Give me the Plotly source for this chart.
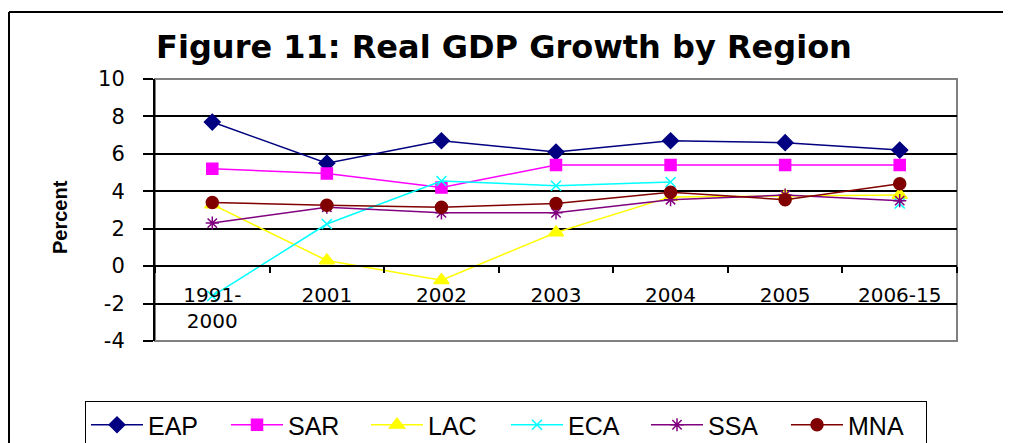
import plotly.graph_objects as go

years = ["1991-<br>2000", "2001", "2002", "2003", "2004", "2005", "2006-15"]

eap = [7.7, 5.5, 6.7, 6.1, 6.7, 6.6, 6.2]
sar = [5.2, 4.95, 4.2, 5.4, 5.4, 5.4, 5.4]
lac = [3.3, 0.3, -0.75, 1.8, 3.7, 3.75, 3.8]
eca = [-1.6, 2.25, 4.55, 4.3, 4.5, None, 3.35]
ssa = [2.3, 3.15, 2.85, 2.85, 3.55, 3.8, 3.5]
mna = [3.4, 3.25, 3.15, 3.35, 3.95, 3.55, 4.4]

y_ticks = [-4, -2, 0, 2, 4, 6, 8, 10]
y_labels = ["-4", "-2", "0", "2", "4", "6", "8", "10"]

series = [
    ("EAP", eap, "#000080", "diamond", 12),
    ("SAR", sar, "#FF00FF", "square", 11),
    ("LAC", lac, "#FFFF00", "triangle-up", 13),
    ("ECA", eca, "#00FFFF", "x-thin-open", 10),
    ("SSA", ssa, "#800080", "asterisk-open", 11),
    ("MNA", mna, "#800000", "circle", 12),
]

arial = "Liberation Sans, Arial, sans-serif"
wide = "DejaVu Sans, Verdana, sans-serif"

# page has an 8px body margin; figure is taller than the window so the
# legend box runs off the bottom edge like in the original
W, H = 1003, 470
L, T, R, B = 147, 71, 54, 137
PW, PH = W - L - R, H - T - B

fig = go.Figure()
for name, vals, color, sym, size in series:
    fig.add_trace(go.Scatter(
        x=years, y=vals, name=name, mode="lines+markers",
        connectgaps=False,
        line=dict(color=color, width=1.5),
        marker=dict(symbol=sym, size=size, color=color,
                    line=dict(color=color, width=1.5)),
    ))

frame_x = (1 - L) / PW
frame_y = (T + PH - 4) / PH

fig.update_layout(
    width=W, height=H,
    margin=dict(l=L, r=R, t=T, b=B),
    paper_bgcolor="white", plot_bgcolor="white",
    font=dict(family=wide, color="black", size=20),
    title=dict(text="<b>Figure 11: Real GDP Growth by Region</b>",
               x=496 / W, xanchor="center", xref="container",
               y=1 - 39 / H, yanchor="middle", yref="container",
               font=dict(size=32, family=wide, color="black")),
    showlegend=True,
    legend=dict(orientation="h", xref="paper", yref="paper",
                x=(77 - L) / PW, xanchor="left", y=-60 / PH, yanchor="top",
                bordercolor="black", borderwidth=1,
                font=dict(size=25, family=arial),
                entrywidth=73, entrywidthmode="pixels", itemwidth=52,
                tracegroupgap=0),
    xaxis=dict(
        type="category", anchor="free", position=4 / 14,
        showline=True, linecolor="black", linewidth=2,
        ticks="outside", tickson="boundaries", ticklen=6, tickcolor="black",
        tickwidth=2, showgrid=False, ticklabelstandoff=11,
        tickfont=dict(size=20, family=wide), range=[-0.5, 6.5],
    ),
    yaxis=dict(
        range=[-4, 10], tickvals=y_ticks, ticktext=y_labels,
        showgrid=True, gridcolor="black", gridwidth=1.5,
        zeroline=False, showline=True, linecolor="black", linewidth=2,
        ticks="outside", ticklen=10, tickcolor="black", tickwidth=1.5,
        ticklabelstandoff=14, tickfont=dict(size=21, family=wide),
    ),
    shapes=[
        dict(type="rect", xref="paper", yref="paper", x0=0, x1=1, y0=0, y1=1,
             line=dict(color="#808080", width=2), layer="below"),
        dict(type="line", xref="paper", yref="paper", x0=frame_x, x1=frame_x,
             y0=frame_y, y1=-0.6, line=dict(color="black", width=2)),
        dict(type="line", xref="paper", yref="paper", x0=frame_x, x1=1.2,
             y0=frame_y, y1=frame_y, line=dict(color="black", width=2)),
    ],
    annotations=[
        dict(text="<b>Percent</b>", textangle=-90, xref="paper", yref="paper",
             x=-95 / PW, y=(PH - 138) / PH, xanchor="center", yanchor="middle",
             showarrow=False, font=dict(size=20, family=arial)),
    ],
)

fig.write_html("out.html")
